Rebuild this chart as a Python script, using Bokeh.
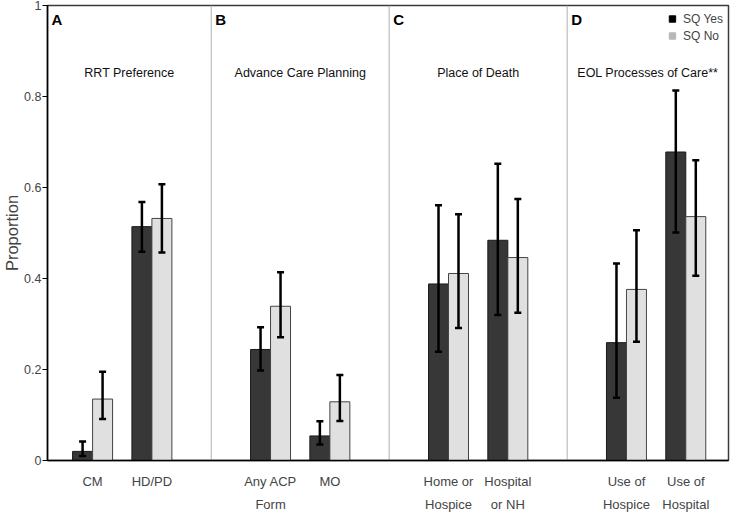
from bokeh.plotting import figure
from bokeh.models import (ColumnDataSource, Span, Label, Whisker, TeeHead, FixedTicker,
                          CustomJSTickFormatter, Range1d)
from bokeh.embed import file_html
from bokeh.resources import INLINE

# ---------------- data ----------------
panel_titles = ["RRT Preference", "Advance Care Planning", "Place of Death", "EOL Processes of Care**"]
panel_letters = ["A", "B", "C", "D"]
label_line1 = ["CM", "HD/PD", "Any ACP", "MO", "Home or", "Hospital", "Use of", "Use of"]
label_line2 = ["", "", "Form", "", "Hospice", "or NH", "Hospice", "Hospital"]
panel_of = [0, 0, 1, 1, 2, 2, 3, 3]

yes_mean = [0.020, 0.514, 0.244, 0.054, 0.388, 0.484, 0.259, 0.678]
yes_lo = [0.010, 0.459, 0.198, 0.035, 0.239, 0.320, 0.138, 0.501]
yes_hi = [0.042, 0.568, 0.293, 0.086, 0.561, 0.652, 0.433, 0.813]
no_mean = [0.135, 0.532, 0.339, 0.129, 0.411, 0.446, 0.376, 0.536]
no_lo = [0.091, 0.457, 0.271, 0.087, 0.291, 0.325, 0.261, 0.406]
no_hi = [0.195, 0.607, 0.414, 0.188, 0.541, 0.575, 0.506, 0.660]

y_ticks = [0, 0.2, 0.4, 0.6, 0.8, 1]

# ---------------- layout helpers ----------------
FONT = "Liberation Sans"
BW = 0.337
within = []
for i, pnl in enumerate(panel_of):
    within.append(sum(1 for j in range(i) if panel_of[j] == pnl))
pos = [pnl * 3 + w + 1 for pnl, w in zip(panel_of, within)]
x_start, x_end = 0.24, 11.72

src = ColumnDataSource(dict(
    x=pos,
    yes_left=[p_ - BW for p_ in pos], yes_right=pos, yes_c=[p_ - BW / 2 for p_ in pos],
    no_left=pos, no_right=[p_ + BW for p_ in pos], no_c=[p_ + BW / 2 for p_ in pos],
    yes_mean=yes_mean, yes_lo=yes_lo, yes_hi=yes_hi,
    no_mean=no_mean, no_lo=no_lo, no_hi=no_hi,
))

p = figure(width=730, height=514, output_backend="svg", toolbar_location=None,
           x_range=Range1d(x_start, x_end), y_range=Range1d(0, 1),
           min_border_top=5, min_border_right=2, min_border_left=0, min_border_bottom=0)
p.xgrid.visible = False
p.ygrid.visible = False
p.outline_line_color = "#3a3a3a"
p.outline_line_width = 1.5
p.background_fill_color = "white"
p.border_fill_color = "white"

# separators
n_panels = len(panel_titles)
bounds = [x_start]
for k in range(n_panels - 1):
    last = max(pos[i] for i in range(len(pos)) if panel_of[i] == k)
    first = min(pos[i] for i in range(len(pos)) if panel_of[i] == k + 1)
    b = (last + first) / 2
    bounds.append(b)
    p.add_layout(Span(location=b, dimension="height", line_color="#b0b0b0",
                      line_width=1, level="underlay"))
bounds.append(x_end)

# bars
p.quad(left="yes_left", right="yes_right", bottom=0, top="yes_mean", source=src,
       fill_color="#373737", line_color="#1a1a1a", line_width=1)
p.quad(left="no_left", right="no_right", bottom=0, top="no_mean", source=src,
       fill_color="#e0e0e0", line_color="#444444", line_width=1)

for base, lo, hi in [("yes_c", "yes_lo", "yes_hi"), ("no_c", "no_lo", "no_hi")]:
    w = Whisker(source=src, base=base, lower=lo, upper=hi, dimension="height",
                line_color="black", line_width=2.5, level="overlay",
                upper_head=TeeHead(size=7, line_width=2.5, line_color="black"),
                lower_head=TeeHead(size=7, line_width=2.5, line_color="black"))
    p.add_layout(w)

# legend via invisible (NaN) marker renderers
nan = float("nan")
p.scatter(x=[nan], y=[nan], marker="square", fill_color="black", line_color="black",
          legend_label="SQ Yes")
p.scatter(x=[nan], y=[nan], marker="square", fill_color="#b8b8b8", line_color="#b8b8b8",
          legend_label="SQ No")
lg = p.legend[0]
lg.location = "top_right"
lg.border_line_color = None
lg.background_fill_alpha = 0
lg.margin = 5
lg.padding = 4
lg.spacing = 0
lg.glyph_width = 16
lg.glyph_height = 17
lg.label_height = 17
lg.label_standoff = 3
lg.label_text_font = FONT
lg.label_text_font_size = "12px"

# panel titles and letters
for k in range(n_panels):
    mid = (bounds[k] + bounds[k + 1]) / 2
    p.add_layout(Label(x=mid, y=0.852, text=panel_titles[k], text_align="center",
                       text_baseline="middle", text_font=FONT, text_font_size="12.5px",
                       text_color="#111111"))
    p.add_layout(Label(x=bounds[k], y=1, x_offset=4, y_offset=-5, text=panel_letters[k],
                       text_align="left", text_baseline="top", text_font=FONT,
                       text_font_size="15px", text_font_style="bold", text_color="black"))

# y axis
ya = p.yaxis[0]
ya.ticker = FixedTicker(ticks=y_ticks)
ya.formatter = CustomJSTickFormatter(code="return String(Math.round(tick*10)/10);")
ya.axis_label = "Proportion"
ya.axis_label_text_font = FONT
ya.axis_label_text_font_size = "16.5px"
ya.axis_label_text_font_style = "normal"
ya.axis_label_standoff = 0
ya.major_label_text_font = FONT
ya.major_label_text_font_size = "12.5px"
ya.major_label_standoff = 1
ya.major_tick_out = 5
ya.major_tick_in = 0
ya.minor_tick_line_color = None
ya.axis_line_color = "black"
ya.axis_line_width = 1.5
ya.major_tick_line_width = 1.2

# x axis: two-line category labels
xa = p.xaxis[0]
xa.ticker = FixedTicker(ticks=pos)
xa.major_label_overrides = {pp: (a + "\n" + b if b else a)
                            for pp, a, b in zip(pos, label_line1, label_line2)}
xa.major_tick_line_color = None
xa.minor_tick_line_color = None
xa.axis_line_color = "black"
xa.axis_line_width = 1.5
xa.major_label_standoff = 7
xa.major_label_text_font = FONT
xa.major_label_text_font_size = "13px"
xa.major_label_text_line_height = 1.55

open("out.html", "w").write(file_html(p, INLINE))
